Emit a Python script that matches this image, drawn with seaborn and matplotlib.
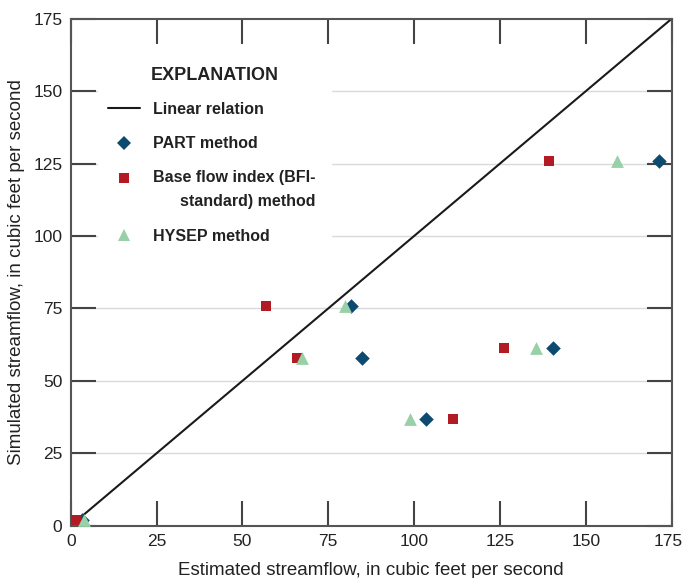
import numpy as np
import pandas as pd
import matplotlib
matplotlib.use('Agg')
import matplotlib.pyplot as plt
import matplotlib.transforms as mtransforms
from matplotlib.lines import Line2D
from matplotlib.patches import Rectangle
from matplotlib.path import Path
import seaborn as sns

# simulated streamflow (same for each method), cubic feet per second
simulated = [125.8, 75.9, 61.2, 57.8, 36.7, 2.0]

# estimated streamflow by method
part_est = [171.3, 81.6, 140.4, 84.7, 103.5, 3.2]
bfi_est = [139.4, 56.9, 126.3, 66.0, 111.4, 1.5]
hysep_est = [159.1, 80.0, 135.6, 67.4, 98.9, 4.0]

methods = ['PART method', 'Base flow index (BFI-\n      standard) method', 'HYSEP method']
colors = ['#0d4a70', '#b31b24', '#98d0a8']
markers = ['D', 's', '^']
sizes = [55, 60, 85]

ticks = [0, 25, 50, 75, 100, 125, 150, 175]

df = pd.DataFrame({
    'estimated': part_est + bfi_est + hysep_est,
    'simulated': simulated * 3,
    'method': np.repeat(methods, len(simulated)),
})

sns.set_style('white')
plt.rcParams['font.family'] = ['Liberation Sans', 'DejaVu Sans']

W, H = 683, 578
fig = plt.figure(figsize=(W / 100, H / 100), dpi=100)
x0, x1, y0, y1 = 70.7, 671.7, 18.7, 525.7
ax = fig.add_axes([x0 / W, 1 - y1 / H, (x1 - x0) / W, (y1 - y0) / H])


def ax_xy(px, py):
    return (px - x0) / (x1 - x0), (y1 - py) / (y1 - y0)


for y in ticks[1:-1]:
    ax.axhline(y, color='#d9d9d9', lw=1.0, zorder=0)

# white block behind the explanation
bx0, by0 = ax_xy(98, 252)
bx1, by1 = ax_xy(332, 52)
ax.add_patch(Rectangle((bx0, by0), bx1 - bx0, by1 - by0, transform=ax.transAxes,
                       facecolor='white', edgecolor='none', zorder=0.5))

ax.plot([0, 175], [0, 175], color='#1a1a1a', lw=1.5, zorder=1)

for m, c, mk, s in zip(methods, colors, markers, sizes):
    sub = df[df['method'] == m]
    sns.scatterplot(data=sub, x='estimated', y='simulated', color=c, marker=mk,
                    s=s, linewidth=0, ax=ax, legend=False, zorder=3)

ax.set_xlim(0, 175)
ax.set_ylim(0, 175)
ax.set_xticks(ticks)
ax.set_yticks(ticks)
ax.tick_params(direction='in', length=18, width=1.5, color='#444444',
               bottom=True, left=True, top=True, right=True,
               labelsize=12.5, pad=6, labelcolor='#222222')
for sp in ax.spines.values():
    sp.set_color('#555555')
    sp.set_linewidth(1.5)

# keep the last x label inside the picture
last = ax.get_xticklabels()[-1]
last.set_transform(last.get_transform() + mtransforms.ScaledTranslation(-0.04, 0, fig.dpi_scale_trans))

ax.set_xlabel('Estimated streamflow, in cubic feet per second', fontsize=13.5, color='#222222', labelpad=9)
ax.set_ylabel('Simulated streamflow, in cubic feet per second', fontsize=13.5, color='#222222', labelpad=6)

tx, ty = ax_xy(151, 75)
ax.text(tx, ty, 'EXPLANATION', transform=ax.transAxes, fontsize=13, fontweight='bold',
        color='#222222', ha='left', va='center', zorder=4)

# square raised to sit beside the first line of the two-line label
d = 1.25
raised_sq = Path([(-0.5, d - 0.5), (0.5, d - 0.5), (0.5, d + 0.5), (-0.5, d + 0.5), (-0.5, d - 0.5)],
                 [Path.MOVETO, Path.LINETO, Path.LINETO, Path.LINETO, Path.CLOSEPOLY])

handles = [
    Line2D([], [], color='#1a1a1a', lw=1.5),
    Line2D([], [], ls='none', marker='D', color=colors[0], markersize=np.sqrt(sizes[0]), markeredgewidth=0),
    Line2D([], [], ls='none', marker=raised_sq, color=colors[1], markersize=24, markeredgewidth=0),
    Line2D([], [], ls='none', marker='^', color=colors[2], markersize=np.sqrt(sizes[2]), markeredgewidth=0),
]
labels = ['Linear relation'] + methods

lx, ly = ax_xy(108, 102)
leg = ax.legend(handles, labels, loc='upper left', bbox_to_anchor=(lx, ly),
                frameon=False, handlelength=2.0, handletextpad=0.8,
                labelspacing=1.2, borderpad=0, borderaxespad=0,
                prop={'weight': 'bold', 'size': 11.5}, labelcolor='#222222')
for t in leg.get_texts():
    t.set_linespacing(1.75)
leg.set_zorder(4)

fig.savefig('out.png', dpi=100)
